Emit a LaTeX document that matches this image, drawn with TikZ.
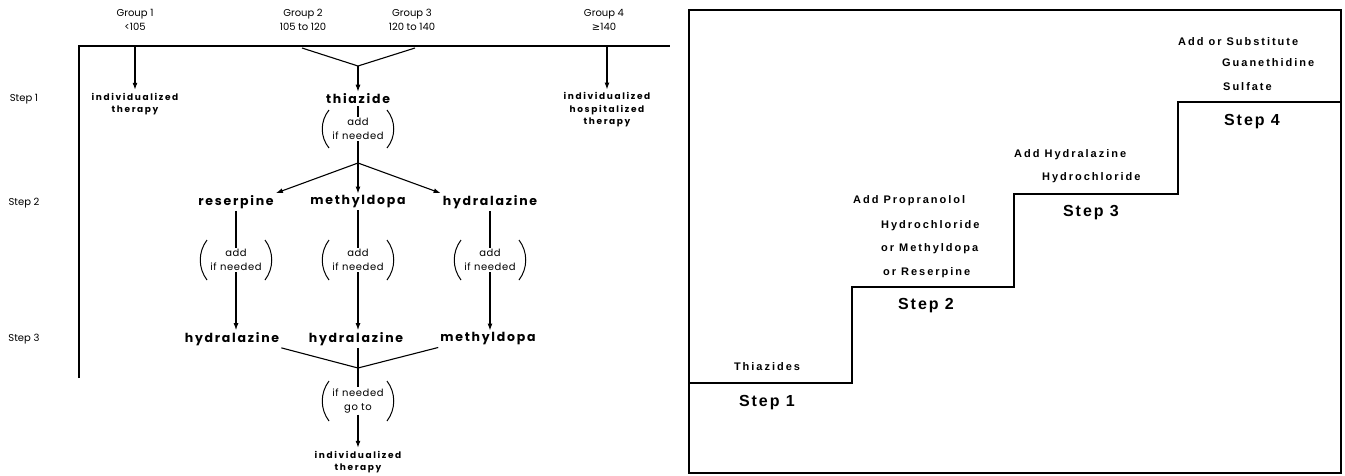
\documentclass[tikz,border=0pt]{standalone}
\usepackage{fontspec}
\setmainfont{Poppins}
\newfontfamily\drugfont[LetterSpace=14]{Poppins}
\newfontfamily\indfont[LetterSpace=18]{Poppins}
\newfontfamily\smallfont[LetterSpace=6]{Poppins}
\newfontfamily\helv[LetterSpace=18]{Liberation Sans}
\newfontfamily\helvstep[LetterSpace=12]{Liberation Sans}
\newfontfamily\dejavu{DejaVu Sans}
\usetikzlibrary{arrows.meta,calc}
\tikzset{
  ln/.style={line width=1.1pt},
  arr/.style={ln,-{Latex[length=7pt,width=5pt]}},
  pl/.style={line width=1pt},
  rl/.style={line width=1.8pt},
  grp/.style={font=\fontsize{10}{14}\selectfont, align=center, inner sep=0pt},
  drug/.style={font=\drugfont\bfseries\fontsize{12.5}{14}\selectfont, inner sep=2pt},
  ind/.style={font=\indfont\bfseries\fontsize{9}{12.5}\selectfont, align=center, inner sep=3pt},
  addn/.style={font=\smallfont\fontsize{10}{14.5}\selectfont, align=center, inner sep=1pt},
  steplbl/.style={font=\fontsize{10}{12}\selectfont, inner sep=0pt},
  rt/.style={font=\helv\bfseries\fontsize{11}{13}\selectfont, anchor=west, inner sep=0pt},
  rstep/.style={font=\helvstep\bfseries\fontsize{16}{18}\selectfont, inner sep=0pt},
}
\newcommand\parenpair[2]{%
  \draw[pl] ($(#1)+(-29,-#2)$) .. controls ($(#1)+(-38,-8)$) and ($(#1)+(-38,8)$) .. ($(#1)+(-29,#2)$);
  \draw[pl] ($(#1)+(29,-#2)$) .. controls ($(#1)+(38,-8)$) and ($(#1)+(38,8)$) .. ($(#1)+(29,#2)$);
}
\begin{document}
\begin{tikzpicture}[x=1pt,y=-1pt]
\useasboundingbox (0,0) rectangle (1345,475);
% ---------- left flow chart ----------
\node[grp] (g1) at (135,20) {Group 1\\<105};
\node[grp] (g2) at (303,20) {Group 2\\105 to 120};
\node[grp] (g3) at (412,20) {Group 3\\120 to 140};
\node[grp] (g4) at (604,20) {Group 4\\{\dejavu ≥}140};
\coordinate (tl) at (79,46);
\coordinate (tr) at (670,46);
\coordinate (bl) at (79,378);
\draw[ln] (bl) -- (tl) -- (tr);
\node[steplbl] (s1) at (24,99) {Step 1};
\node[steplbl] (s2) at (24,203) {Step 2};
\node[steplbl] (s3) at (24,339) {Step 3};
\coordinate (a1) at (135,46);
\coordinate (a4) at (607,46);
\node[ind] (ind1) at (135,104) {individualized\\therapy};
\node[ind] (ind4) at (607,110) {individualized\\hospitalized\\therapy};
\draw[arr] (a1) -- (ind1);
\draw[arr] (a4) -- (ind4);
\coordinate (v2) at (302,48);
\coordinate (v3) at (415,48);
\coordinate (apex0) at (358,66);
\draw[ln] (v2) -- (apex0) -- (v3);
\node[drug] (thz) at (358,99) {thiazide};
\draw[arr] (apex0) -- (thz);
\node[addn] (p0) at (358,129) {add\\if needed};
\parenpair{p0}{19}
\draw[ln] (thz) -- (p0);
\coordinate (apex1) at (358,163);
\draw[ln] (p0) -- (apex1);
\node[drug] (res) at (236,202) {reserpine};
\node[drug] (met) at (358,202) {methyldopa};
\node[drug] (hyd) at (490,202) {hydralazine};
\draw[arr] (apex1) -- (res.north east);
\draw[arr] (apex1) -- (met);
\draw[arr] (apex1) -- (hyd.north west);
\node[addn] (p1) at (236,260) {add\\if needed};
\node[addn] (p2) at (358,260) {add\\if needed};
\node[addn] (p3) at (490,260) {add\\if needed};
\parenpair{p1}{20}
\parenpair{p2}{20}
\parenpair{p3}{20}
\draw[ln] (res) -- (p1);
\draw[ln] (met) -- (p2);
\draw[ln] (hyd) -- (p3);
\node[drug] (h1) at (232,339) {hydralazine};
\node[drug] (h2) at (356,339) {hydralazine};
\node[drug] (m3) at (488,339) {methyldopa};
\draw[arr] (p1) -- (h1.north -| p1);
\draw[arr] (p2) -- (h2.north -| p2);
\draw[arr] (p3) -- (m3.north -| p3);
\coordinate (apex2) at (358,368);
\draw[ln] (h1.south east) -- (apex2) -- (m3.south west);
\draw[ln] (h2.south -| apex2) -- (apex2);
\node[addn] (p4) at (358,401) {if needed\\go to};
\parenpair{p4}{20}
\draw[ln] (apex2) -- (p4);
\node[ind] (ind5) at (358,462) {individualized\\therapy};
\draw[arr] (p4) -- (ind5);
% ---------- right staircase ----------
\draw[rl] (689,10) rectangle (1341,473);
\draw[rl] (689,383) -- (852,383) -- (852,287) -- (1014,287) -- (1014,194)
  -- (1178,194) -- (1178,102) -- (1341,102);
\node[rt, anchor=center] (thz2) at (767,367) {Thiazides};
\node[rstep] (st1) at (767,403) {Step 1};
\node[rt] (r2a) at (853,201) {Add Propranolol};
\node[rt] (r2b) at (881,226) {Hydrochloride};
\node[rt] (r2c) at (881,249) {or Methyldopa};
\node[rt] (r2d) at (883,273) {or Reserpine};
\node[rstep] (st2) at (926,306) {Step 2};
\node[rt] (r3a) at (1014,155) {Add Hydralazine};
\node[rt] (r3b) at (1042,178) {Hydrochloride};
\node[rstep] (st3) at (1091,213) {Step 3};
\node[rt] (r4a) at (1178,42) {Add or Substitute};
\node[rt] (r4b) at (1222,63) {Guanethidine};
\node[rt] (r4c) at (1223,87) {Sulfate};
\node[rstep] (st4) at (1252,122) {Step 4};
\end{tikzpicture}
\end{document}
